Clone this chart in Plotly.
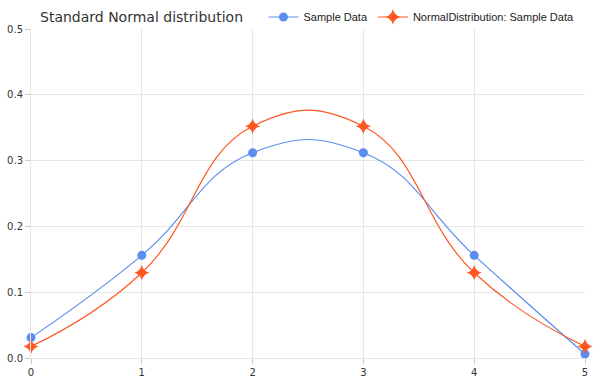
import plotly.graph_objects as go

x_vals = [0, 1, 2, 3, 4, 5]
sample_data = [0.031, 0.156, 0.312, 0.312, 0.156, 0.006]
normal_fit = [0.0175, 0.1295, 0.3521, 0.3521, 0.1295, 0.0175]
y_ticks = [0.0, 0.1, 0.2, 0.3, 0.4, 0.5]

blue = "#5B8DEF"
red = "#FF5722"

fig = go.Figure()
fig.add_trace(go.Scatter(
    x=x_vals, y=sample_data, name="Sample Data", mode="lines+markers",
    line=dict(color=blue, width=1.2, shape="spline", smoothing=1.3),
    marker=dict(symbol="circle", size=9, color=blue),
    cliponaxis=False,
))
fig.add_trace(go.Scatter(
    x=x_vals, y=normal_fit, name="NormalDistribution: Sample Data", mode="lines+markers",
    line=dict(color=red, width=1.2, shape="spline", smoothing=1.3),
    marker=dict(symbol="star-diamond", size=11, color=red),
    cliponaxis=False,
))

fig.update_layout(
    width=597, height=384,
    margin=dict(l=31, r=12, t=29, b=26, autoexpand=False),
    plot_bgcolor="white", paper_bgcolor="white",
    title=dict(text="Standard Normal distribution", x=40/597, xanchor="left",
               y=1 - 17/384, yanchor="middle",
               font=dict(family="DejaVu Sans", size=14, color="#333333")),
    legend=dict(orientation="h", x=0.99, xanchor="right", y=1 + 12/329, yanchor="middle",
                font=dict(family="Liberation Sans", size=11, color="#222222"),
                bgcolor="rgba(0,0,0,0)", itemwidth=30, tracegroupgap=0),
    showlegend=True,
    xaxis=dict(range=[0, 5], tickvals=x_vals, ticktext=[str(v) for v in x_vals],
               showgrid=True, gridcolor="#E6E6E6", gridwidth=1, automargin=False,
               zeroline=False, showline=True, linecolor="#E6E6E6",
               ticks="outside", ticklen=5, tickcolor="#CCCCCC",
               tickfont=dict(family="DejaVu Sans", size=10, color="#333333")),
    yaxis=dict(range=[0, 0.5], tickvals=y_ticks, ticktext=[f"{v:.1f}" for v in y_ticks],
               showgrid=True, gridcolor="#E6E6E6", gridwidth=1, automargin=False,
               zeroline=False, showline=True, linecolor="#E6E6E6",
               ticks="outside", ticklen=5, tickcolor="#CCCCCC",
               tickfont=dict(family="DejaVu Sans", size=10, color="#333333")),
)

fig.write_html("out.html", config={"displayModeBar": False},
               post_script="document.body.style.margin='0';document.body.style.overflow='hidden';")
